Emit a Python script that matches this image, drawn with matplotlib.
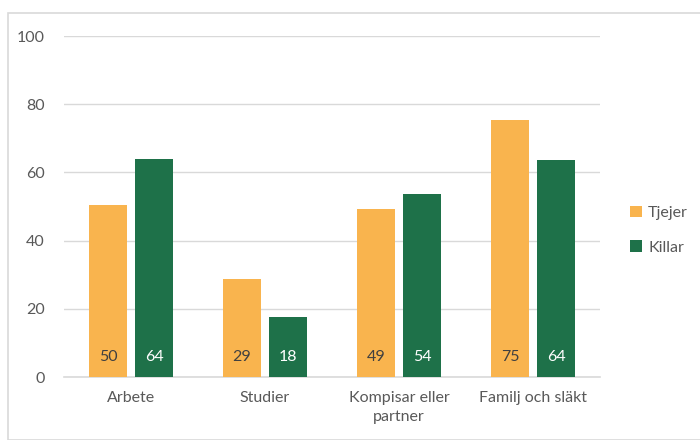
import numpy as np
import matplotlib.pyplot as plt
from matplotlib.patches import Rectangle

categories = ['Arbete', 'Studier', 'Kompisar eller\npartner', 'Familj och släkt']
tjejer = [50.3, 28.7, 49.2, 75.5]
killar = [63.8, 17.6, 53.8, 63.5]
tjejer_labels = ['50', '29', '49', '75']
killar_labels = ['64', '18', '54', '64']

plt.rcParams['font.family'] = ['Lato', 'DejaVu Sans']
text_col = '#595959'
orange = '#F9B44E'
green = '#1E7149'

fig = plt.figure(figsize=(7, 4.4), dpi=100)
fig.patches.append(Rectangle((8 / 700, 0), 1, 1 - 13 / 440, transform=fig.transFigure,
                             fill=False, edgecolor='#D9D9D9', linewidth=1.2))
ax = fig.add_axes([64 / 700, 63 / 440, 536 / 700, 341 / 440])

x = np.arange(len(categories))
w = 0.29
off = 0.172
b1 = ax.bar(x - off, tjejer, w, color=orange, label='Tjejer', zorder=3)
b2 = ax.bar(x + off, killar, w, color=green, label='Killar', zorder=3)

for rect, lab in zip(b1, tjejer_labels):
    ax.text(rect.get_x() + rect.get_width() / 2, 5.8, lab, ha='center', va='center',
            fontsize=11.5, color='#404040', zorder=4)
for rect, lab in zip(b2, killar_labels):
    ax.text(rect.get_x() + rect.get_width() / 2, 5.8, lab, ha='center', va='center',
            fontsize=11.5, color='white', zorder=4)

ax.set_xlim(-0.5, 3.5)
ax.set_ylim(0, 100)
ax.set_yticks(range(0, 101, 20))
ax.set_xticks(x)
ax.set_xticklabels(categories, linespacing=1.45)
ax.grid(axis='y', color='#D9D9D9', linewidth=1, zorder=0)
for s in ['top', 'right', 'left']:
    ax.spines[s].set_visible(False)
ax.spines['bottom'].set_color('#D9D9D9')
ax.spines['bottom'].set_linewidth(1.2)
ax.tick_params(axis='both', length=0, labelsize=11.5, labelcolor=text_col)
ax.tick_params(axis='y', pad=14)
ax.tick_params(axis='x', pad=10)

ax.legend(loc='center left', bbox_to_anchor=(1.03, 0.43), frameon=False,
          fontsize=11.5, labelcolor=text_col, handlelength=0.7, handleheight=0.7,
          handletextpad=0.4, labelspacing=1.25)

fig.savefig('out.png', dpi=100)
